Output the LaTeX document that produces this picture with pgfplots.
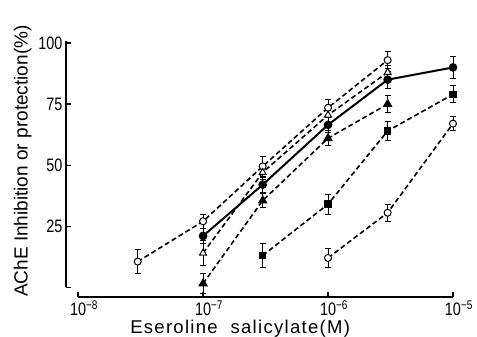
\documentclass[border=0pt]{standalone}
\usepackage{fontspec}
\setmainfont{Liberation Sans}
\newfontfamily\tickfont{Liberation Sans}[FakeStretch=0.8]
\newfontfamily\xlabfont{Liberation Sans}[LetterSpace=7]
\usepackage{pgfplots}
\pgfplotsset{compat=1.18}
\begin{document}
\begin{tikzpicture}
\begin{axis}[
  scale only axis, width=387pt, height=256.4pt,
  xmode=log, xmin=8e-9, xmax=1e-5, ymin=-4, ymax=101,
  axis line style={draw=none},
  xminorticks=false,
  xtick={1e-8,1e-7,1e-6,1e-5},
  xticklabels={10\rlap{\textsuperscript{−8}},10\rlap{\textsuperscript{−7}},10\rlap{\textsuperscript{−6}},10\rlap{\textsuperscript{−5}}},
  ytick={0,25,50,75,100}, yticklabels={,25,50,75,100},
  xtick pos=bottom, ytick pos=left,
  tick align=inside, major tick length=5pt,
  tick style={line width=1.2pt, black},
  ticklabel style={font=\tickfont\fontsize{18}{20}\selectfont},
  /pgf/number format/assume math mode=true,
  label style={font=\fontsize{19}{21}\selectfont},
  xlabel={Eseroline\ \ salicylate(M)},
  ylabel={AChE Inhibition or protection(\%)},
  xlabel style={font=\xlabfont\fontsize{18.5}{20}\selectfont, at={(ticklabel cs:0.45)}, anchor=north, yshift=2.5pt},
  ylabel style={at={(ticklabel cs:0.53)}},
  clip=false,
  every axis plot/.append style={line width=1.6pt, black},
  dashed line/.style={dash pattern=on 5pt off 3pt},
  error bars/error bar style={line width=0.9pt, solid, black},
  error bars/error mark options={line width=0.9pt, mark size=3pt, solid, black, rotate=90},
]
% open circles (top)
\addplot[dashed line, mark=*, mark size=3.5pt, mark options={solid, fill=white, draw=black, line width=1pt},
  error bars/.cd, y dir=both, y explicit]
  coordinates {(3e-8,10.5) +- (0,5) (1e-7,27) +- (0,3) (3e-7,49.5) +- (0,4) (1e-6,73.5) +- (0,3.5) (3e-6,93) +- (0,3.5)};
% open triangles
\addplot[dashed line, mark=triangle*, mark size=4pt, mark options={solid, fill=white, draw=black, line width=1pt},
  error bars/.cd, y dir=both, y explicit]
  coordinates {(1e-7,14) +- (0,5) (3e-7,47) +- (0,3) (1e-6,70.5) +- (0,3) (3e-6,88) +- (0,3)};
% filled circles, solid line
\addplot[solid, line width=2pt, mark=*, mark size=3.3pt, mark options={solid, fill=black},
  error bars/.cd, y dir=both, y explicit]
  coordinates {(1e-7,21) +- (0,3) (3e-7,42) +- (0,3) (1e-6,66.5) +- (0,3) (3e-6,85) +- (0,3.5) (1e-5,90) +- (0,4.5)};
% filled triangles
\addplot[dashed line, mark=triangle*, mark size=4pt, mark options={solid, fill=black},
  error bars/.cd, y dir=both, y explicit]
  coordinates {(1e-7,1.5) +- (0,4) (3e-7,35.5) +- (0,3) (1e-6,61) +- (0,3) (3e-6,75) +- (0,3.5)};
% filled squares
\addplot[dashed line, mark=square*, mark size=3pt, mark options={solid, fill=black},
  error bars/.cd, y dir=both, y explicit]
  coordinates {(3e-7,13) +- (0,5) (1e-6,34) +- (0,4) (3e-6,64) +- (0,4) (1e-5,79) +- (0,3.5)};
% open circles (bottom)
\addplot[dashed line, mark=*, mark size=3.5pt, mark options={solid, fill=white, draw=black, line width=1pt},
  error bars/.cd, y dir=both, y explicit]
  coordinates {(1e-6,12) +- (0,4) (3e-6,30.5) +- (0,3.5) (1e-5,67) +- (0,3)};
% axis lines (offset spines)
\draw[line width=1.4pt] (axis cs:1e-8,-4) -- (axis cs:1e-5,-4);
\draw[line width=1.4pt] (axis cs:8e-9,0) -- (axis cs:8e-9,101);
\end{axis}
\pgfresetboundingbox
\path[use as bounding box] ([shift={(-66pt,-40pt)}]current axis.south west) rectangle ([shift={(24pt,40.6pt)}]current axis.north east);
\end{tikzpicture}
\end{document}
